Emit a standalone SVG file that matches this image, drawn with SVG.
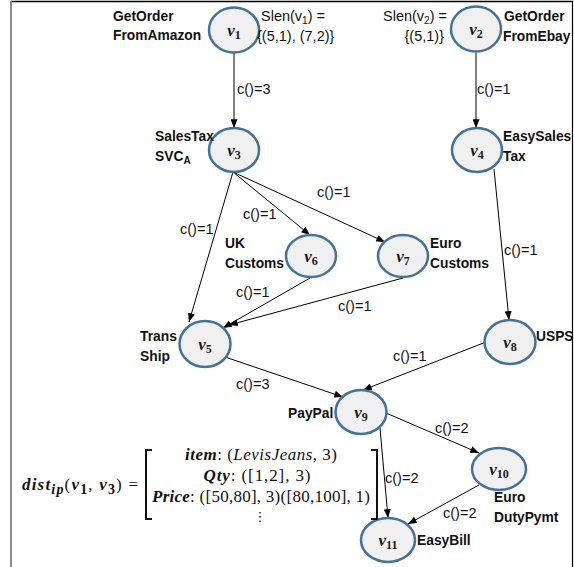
<svg xmlns="http://www.w3.org/2000/svg" width="574" height="567" viewBox="0 0 574 567">
<defs>
<marker id="ah" viewBox="0 0 10 8" refX="10" refY="4" markerWidth="9" markerHeight="7" markerUnits="userSpaceOnUse" orient="auto">
<path d="M0,0 L10,4 L0,8 z" fill="#000"/>
</marker>
<style>
.nd{fill:#f0f0f0;stroke:#41719c;stroke-width:2.5}
.vl{font-family:"Liberation Serif",serif;font-size:17px;font-weight:bold;font-style:italic;text-anchor:middle;fill:#1a1a1a}
.sb{font-size:12px;font-style:normal}
.bl{font-family:"Liberation Sans",Arial,sans-serif;font-size:13.8px;font-weight:bold;fill:#111}
.el{font-family:"Liberation Sans",Arial,sans-serif;font-size:14.5px;fill:#111}
.ed{stroke:#000;stroke-width:1;fill:none;marker-end:url(#ah)}
.ev{stroke:#555;stroke-width:1.5;fill:none;marker-end:url(#ah)}
.mx{font-family:"Liberation Serif",serif;font-size:17px;fill:#111}
.bi{font-weight:bold;font-style:italic}
</style>
</defs>
<rect width="574" height="567" fill="#fff"/>
<g id="frame">
<line x1="11" y1="1.5" x2="573" y2="1.5" stroke="#000" stroke-width="1.5"/>
<line x1="11" y1="1" x2="11" y2="567" stroke="#7f7f7f" stroke-width="1.8"/>
<line x1="572.5" y1="1" x2="572.5" y2="567" stroke="#000" stroke-width="1.2"/>
</g>
<g id="connectors">
<line class="ev" x1="234" y1="53" x2="234" y2="128"/>
<line class="ev" x1="476" y1="53" x2="476" y2="128"/>
<line class="ed" x1="233" y1="172" x2="189" y2="322"/>
<line class="ed" x1="233" y1="172" x2="310" y2="235"/>
<line class="ed" x1="233" y1="172" x2="385" y2="242"/>
<line class="ed" x1="310" y1="278" x2="223" y2="328"/>
<line class="ed" x1="403" y1="278" x2="229" y2="325"/>
<line class="ed" x1="494" y1="169" x2="509" y2="320"/>
<line class="ed" x1="486" y1="342" x2="363" y2="390"/>
<line class="ed" x1="225" y1="357" x2="343" y2="397"/>
<line class="ed" x1="386" y1="413" x2="479" y2="453"/>
<line class="ed" x1="380" y1="428" x2="388" y2="518"/>
<line class="ed" x1="479" y1="485" x2="408" y2="524"/>
<text class="el" x="237" y="94">c()=3</text>
<text class="el" x="477" y="94">c()=1</text>
<text class="el" x="317" y="197">c()=1</text>
<text class="el" x="243" y="219">c()=1</text>
<text class="el" x="180" y="234">c()=1</text>
<text class="el" x="504" y="255">c()=1</text>
<text class="el" x="236" y="297">c()=1</text>
<text class="el" x="338" y="311">c()=1</text>
<text class="el" x="393" y="361">c()=1</text>
<text class="el" x="236" y="389">c()=3</text>
<text class="el" x="435" y="433">c()=2</text>
<text class="el" x="385" y="483">c()=2</text>
<text class="el" x="443" y="518">c()=2</text>
</g>
<g id="v1">
<ellipse class="nd" cx="234" cy="30" rx="25" ry="22.5"/>
<text class="vl" x="234" y="36">v<tspan class="sb" dy="3">1</tspan></text>
<text class="bl" x="113" y="21">GetOrder</text>
<text class="bl" x="113" y="40">FromAmazon</text>
<text class="el" x="261" y="21">Slen(v<tspan font-size="10" dy="3">1</tspan><tspan dy="-3">) =</tspan></text>
<text class="el" x="257" y="41">{(5,1), (7,2)}</text>
</g>
<g id="v2">
<ellipse class="nd" cx="476" cy="29" rx="25" ry="22.5"/>
<text class="vl" x="476" y="35">v<tspan class="sb" dy="3">2</tspan></text>
<text class="el" x="383" y="21">Slen(v<tspan font-size="10" dy="3">2</tspan><tspan dy="-3">) =</tspan></text>
<text class="el" x="444" y="41" text-anchor="end">{(5,1)}</text>
<text class="bl" x="504" y="21">GetOrder</text>
<text class="bl" x="503" y="41">FromEbay</text>
</g>
<g id="v3">
<ellipse class="nd" cx="234" cy="150" rx="25" ry="22"/>
<text class="vl" x="234" y="156">v<tspan class="sb" dy="3">3</tspan></text>
<text class="bl" x="155" y="141">SalesTax</text>
<text class="bl" x="155" y="161">SVC<tspan font-size="10" dy="3">A</tspan></text>
</g>
<g id="v4">
<ellipse class="nd" cx="477" cy="150" rx="25" ry="22"/>
<text class="vl" x="477" y="156">v<tspan class="sb" dy="3">4</tspan></text>
<text class="bl" x="503" y="141">EasySales</text>
<text class="bl" x="503" y="161">Tax</text>
</g>
<g id="v6">
<ellipse class="nd" cx="311" cy="256" rx="25" ry="21"/>
<text class="vl" x="311" y="262">v<tspan class="sb" dy="3">6</tspan></text>
<text class="bl" x="225" y="248">UK</text>
<text class="bl" x="225" y="268">Customs</text>
</g>
<g id="v7">
<ellipse class="nd" cx="403" cy="256" rx="25" ry="21"/>
<text class="vl" x="403" y="262">v<tspan class="sb" dy="3">7</tspan></text>
<text class="bl" x="430" y="248">Euro</text>
<text class="bl" x="430" y="268">Customs</text>
</g>
<g id="v5">
<ellipse class="nd" cx="205" cy="344" rx="25.5" ry="23"/>
<text class="vl" x="205" y="350">v<tspan class="sb" dy="3">5</tspan></text>
<text class="bl" x="140" y="341">Trans</text>
<text class="bl" x="140" y="361">Ship</text>
</g>
<g id="v8">
<ellipse class="nd" cx="510" cy="342" rx="25.5" ry="22"/>
<text class="vl" x="510" y="348">v<tspan class="sb" dy="3">8</tspan></text>
<text class="bl" x="536" y="341">USPS</text>
</g>
<g id="v9">
<ellipse class="nd" cx="361" cy="412" rx="25.5" ry="22"/>
<text class="vl" x="361" y="418">v<tspan class="sb" dy="3">9</tspan></text>
<text class="bl" x="288" y="418">PayPal</text>
</g>
<g id="v10">
<ellipse class="nd" cx="499" cy="469" rx="27" ry="21"/>
<text class="vl" x="499" y="475">v<tspan class="sb" dy="3">10</tspan></text>
<text class="bl" x="494" y="502">Euro</text>
<text class="bl" x="494" y="522">DutyPymt</text>
</g>
<g id="v11">
<ellipse class="nd" cx="388" cy="540" rx="27" ry="22"/>
<text class="vl" x="388" y="546">v<tspan class="sb" dy="3">11</tspan></text>
<text class="bl" x="417" y="545">EasyBill</text>
</g>
<g id="formula">
<text class="mx" x="22" y="490" font-size="20" textLength="116" lengthAdjust="spacing"><tspan class="bi">dist</tspan><tspan class="bi" font-size="14" dy="4">ip</tspan><tspan dy="-4">(</tspan><tspan class="bi">v</tspan><tspan font-weight="bold" font-size="14" dy="4">1</tspan><tspan dy="-4">, </tspan><tspan class="bi">v</tspan><tspan font-weight="bold" font-size="14" dy="4">3</tspan><tspan dy="-4">) =</tspan></text>
<path d="M152,450 H146 V519 H152" fill="none" stroke="#111" stroke-width="2"/>
<path d="M371,450 H377 V519 H371" fill="none" stroke="#111" stroke-width="2"/>
<text class="mx" x="261" y="460" text-anchor="middle" textLength="152" lengthAdjust="spacing"><tspan class="bi">item</tspan>: (<tspan font-style="italic">LevisJeans</tspan>, 3)</text>
<text class="mx" x="257" y="481" text-anchor="middle" textLength="107" lengthAdjust="spacing"><tspan class="bi">Qty</tspan>: ([1,2], 3)</text>
<text class="mx" x="261" y="502" text-anchor="middle" textLength="218" lengthAdjust="spacing"><tspan class="bi">Price</tspan>: ([50,80], 3)([80,100], 1)</text>
<text x="260" y="521" text-anchor="middle" font-family="DejaVu Sans,sans-serif" font-size="13" fill="#111">⋮</text>
</g>
</svg>
